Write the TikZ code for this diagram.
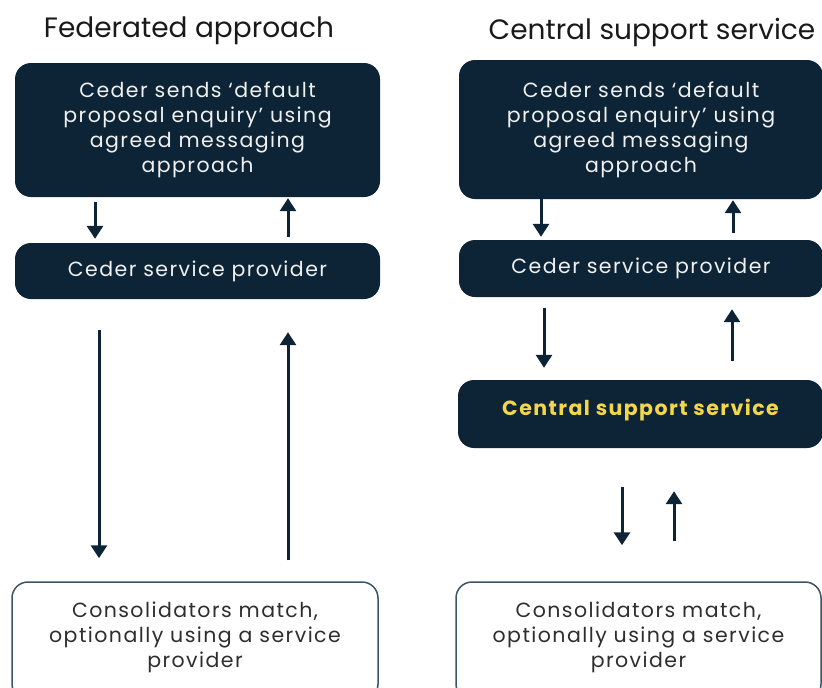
\documentclass[tikz,border=0pt]{standalone}
\usepackage{fontspec}
\setmainfont{Poppins}
\newfontfamily\boxfont[LetterSpace=7]{Poppins}
\usetikzlibrary{arrows.meta}
\definecolor{navy}{HTML}{0C2435}
\definecolor{gold}{HTML}{F3D64A}
\definecolor{edge}{HTML}{3B5566}
\definecolor{ink}{HTML}{2E2E2E}
\tikzset{
  darkbox/.style={draw=none, fill=navy, rounded corners=16pt, text=white!94!black,
    align=center, font=\boxfont\fontsize{20.5}{25}\selectfont, inner sep=0pt},
  lightbox/.style={draw=edge, line width=1.5pt, fill=white, rounded corners=16pt,
    text=ink, align=center, font=\boxfont\fontsize{20.5}{25}\selectfont, inner sep=0pt},
  heading/.style={text=black!90, font=\fontsize{28}{32}\selectfont, anchor=base},
  arr/.style={draw=navy, line width=3pt, -{Triangle[width=16pt,length=13pt]}}
}
\begin{document}
\begin{tikzpicture}[x=1pt,y=-1pt]
\useasboundingbox (0,0) rectangle (822,688);
\clip (0,0) rectangle (822,688);

% headings
\node[heading] (hl) at (189,37) {Federated approach};
\node[heading] (hr) at (652,39) {Central support service};

% federated column
\node[darkbox, minimum width=365pt, minimum height=134pt] (l1) at (197.5,130)
  {Ceder sends ‘default\\proposal enquiry’ using\\agreed messaging\\approach};
\node[darkbox, minimum width=365pt, minimum height=56pt] (l2) at (197.5,271)
  {Ceder service provider};
\node[lightbox, minimum width=366pt, minimum height=118pt, text depth=12pt] (l3) at (195,641)
  {Consolidators match,\\optionally using a service\\provider};

% central support column
\node[darkbox, minimum width=364pt, minimum height=139pt] (r1) at (641,129.5)
  {Ceder sends ‘default\\proposal enquiry’ using\\agreed messaging\\approach};
\node[darkbox, minimum width=364pt, minimum height=57pt] (r2) at (641,268.5)
  {Ceder service provider};
\node[darkbox, minimum width=365pt, minimum height=68pt, text=gold,
  font=\boxfont\fontsize{20.5}{25}\selectfont\bfseries, text depth=14pt] (r3) at (640.5,414)
  {Central support service};
\node[lightbox, minimum width=365pt, minimum height=118pt, text depth=12pt] (r4) at (638.5,641)
  {Consolidators match,\\optionally using a service\\provider};

% arrow columns
\coordinate (la) at (95,0);
\coordinate (lb) at (288,0);
\coordinate (lc) at (99,0);
\coordinate (ra) at (541,0);
\coordinate (rb) at (733,0);
\coordinate (rc) at (544,0);
\coordinate (rd) at (732,0);
\coordinate (re) at (622,0);
\coordinate (rf) at (674,0);

% federated arrows (yshift is measured upwards)
\draw[arr] ([yshift=-5pt]l1.south -| la) -- ([yshift=4pt]l2.north -| la);
\draw[arr] ([yshift=6pt]l2.north -| lb) -- ([yshift=-1pt]l1.south -| lb);
\draw[arr] ([yshift=-31pt]l2.south -| lc) -- ([yshift=23pt]l3.north -| lc);
\draw[arr] ([yshift=21pt]l3.north -| lb) -- ([yshift=-33pt]l2.south -| lb);

% central support arrows
\draw[arr] ([yshift=0pt]r1.south -| ra) -- ([yshift=3pt]r2.north -| ra);
\draw[arr] ([yshift=7pt]r2.north -| rb) -- ([yshift=-1pt]r1.south -| rb);
\draw[arr] ([yshift=-11pt]r2.south -| rc) -- ([yshift=12pt]r3.north -| rc);
\draw[arr] ([yshift=19pt]r3.north -| rd) -- ([yshift=-12pt]r2.south -| rd);
\draw[arr] ([yshift=-39pt]r3.south -| re) -- ([yshift=36pt]r4.north -| re);
\draw[arr] ([yshift=40pt]r4.north -| rf) -- ([yshift=-43pt]r3.south -| rf);
\end{tikzpicture}
\end{document}
